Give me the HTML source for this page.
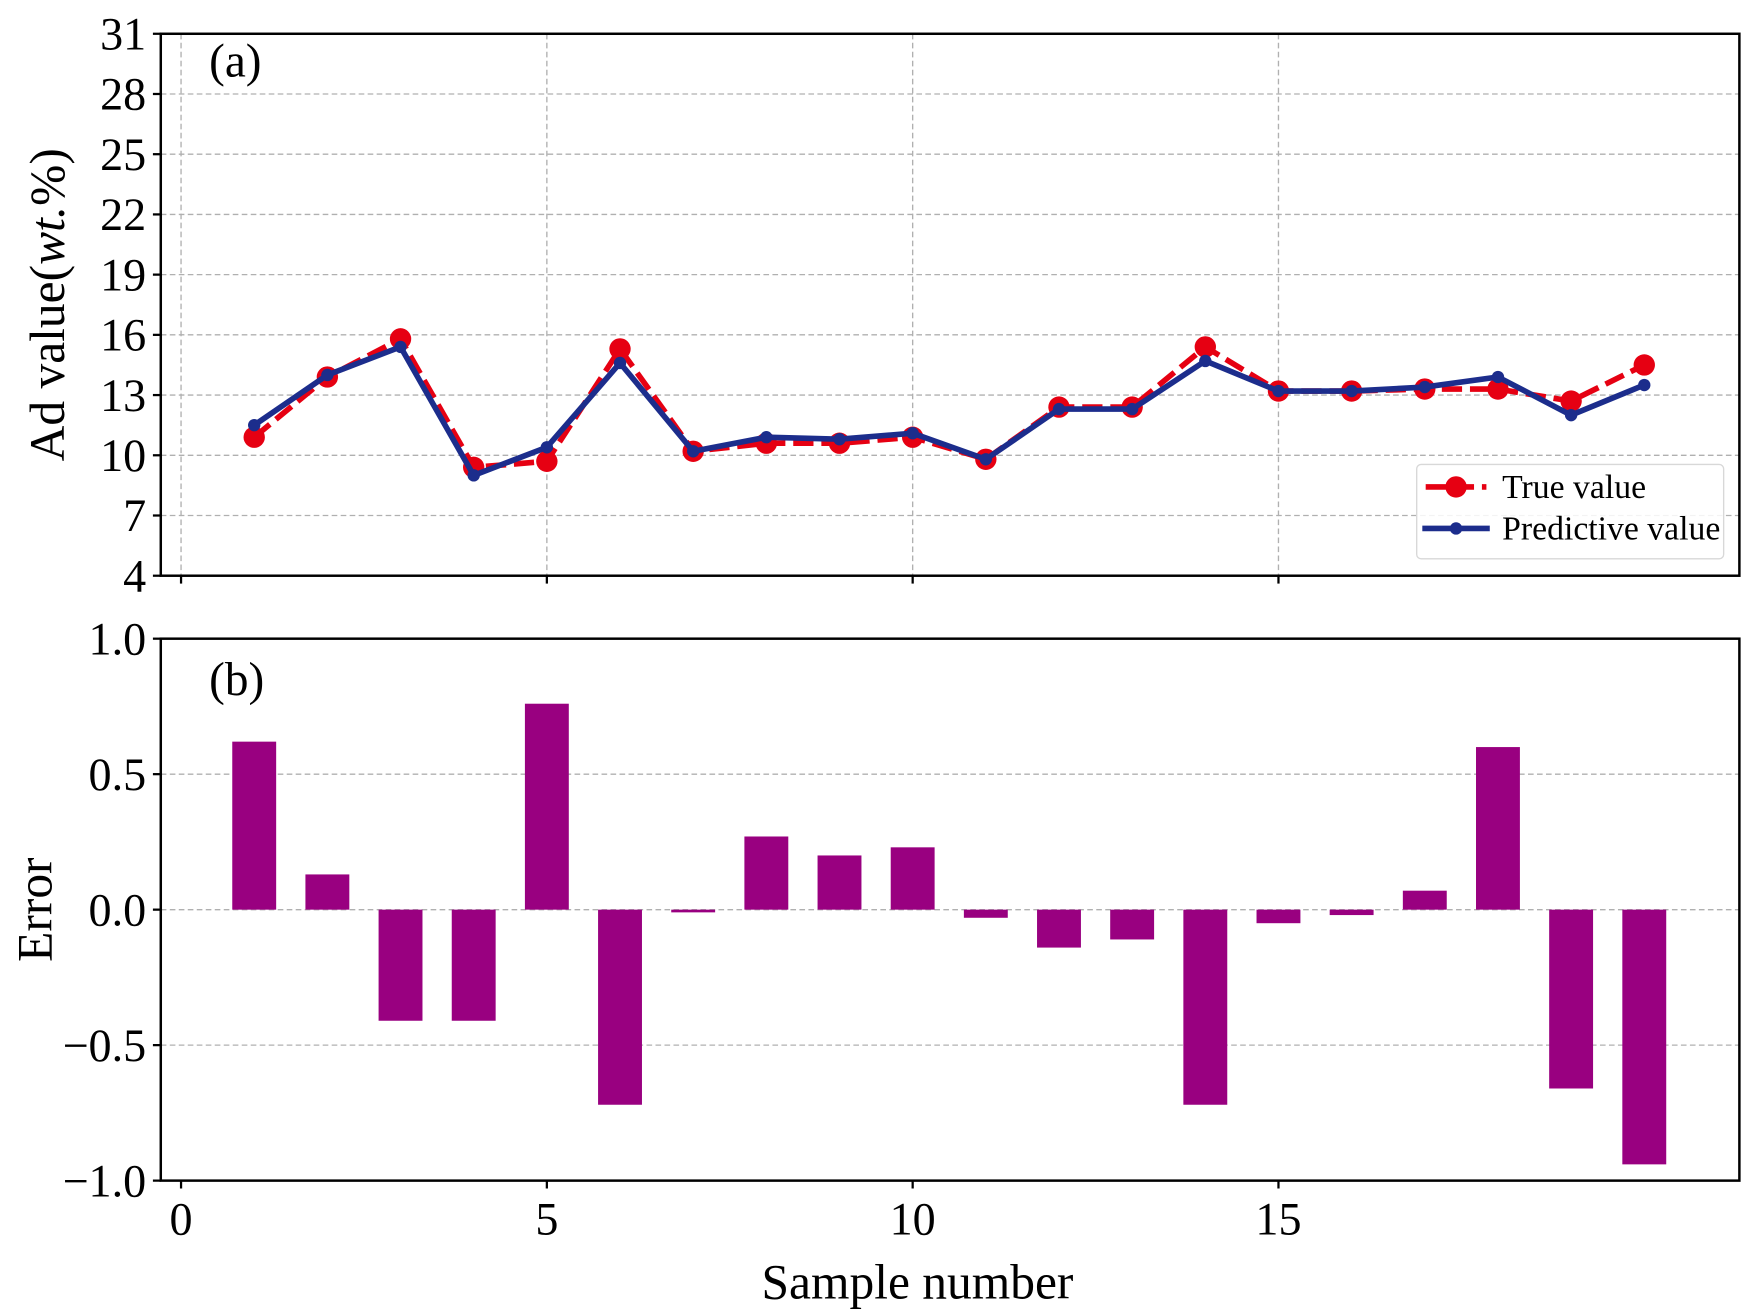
<!DOCTYPE html>
<html><head><meta charset="utf-8">
<style>
html,body{margin:0;padding:0;background:#fff;}
svg{display:block;font-family:"Liberation Serif",serif;}
</style></head>
<body>
<svg id="fig" width="1763" height="1313" viewBox="0 0 1568 1167.7" xmlns="http://www.w3.org/2000/svg">
<g id="gtop"></g>
<g id="gbot"></g>
</svg>
<script>
const samples = [1,2,3,4,5,6,7,8,9,10,11,12,13,14,15,16,17,18,19,20];
const trueValues = [10.9,13.9,15.8,9.4,9.7,15.3,10.2,10.6,10.6,10.9,9.8,12.4,12.4,15.4,13.2,13.2,13.3,13.3,12.7,14.5];
const predValues = [11.5,14.0,15.4,9.0,10.4,14.6,10.2,10.9,10.8,11.1,9.8,12.3,12.3,14.7,13.2,13.2,13.4,13.9,12.0,13.5];
const errors = [0.62,0.13,-0.41,-0.41,0.76,-0.72,-0.01,0.27,0.20,0.23,-0.03,-0.14,-0.11,-0.72,-0.05,-0.02,0.07,0.60,-0.66,-0.94];
const xTicks = [0,5,10,15];
const yTicksTop = [4,7,10,13,16,19,22,25,28,31];
const yTicksBot = [-1.0,-0.5,0.0,0.5,1.0];
const yTicksBotLabels = ["\u22121.0","\u22120.5","0.0","0.5","1.0"];

const NS="http://www.w3.org/2000/svg";
const L=143,R=1547;
const xmin=-0.277,xmax=21.3;
const X=v=>L+(v-xmin)/(xmax-xmin)*(R-L);
const T1=30,B1=512,T2=568,B2=1050;
const Y1=v=>B1-(v-4)/(31-4)*(B1-T1);
const Y2=v=>B2-(v+1)/2*(B2-T2);
const TF=41;
function mk(parent,tag,attrs,text){const e=document.createElementNS(NS,tag);for(const k in attrs)e.setAttribute(k,attrs[k]);if(text!==undefined)e.textContent=text;parent.appendChild(e);return e;}
const gTop=document.getElementById('gtop'),gBot=document.getElementById('gbot');
const grid={stroke:'#b0b0b0','stroke-width':1.2,'stroke-dasharray':'5,3'};

for(const t of yTicksTop){
  let g=mk(gTop,'line',Object.assign({x1:L,x2:R,y1:Y1(t),y2:Y1(t)},grid));
  
  
  let tk=mk(gTop,'line',{x1:L-7,x2:L,y1:Y1(t),y2:Y1(t),stroke:'#000','stroke-width':2});
  
  
  let lb=mk(gTop,'text',{x:L-13,y:Y1(t)+14,'text-anchor':'end','font-size':TF},String(t));
  
  
}
for(const t of xTicks){
  let g=mk(gTop,'line',Object.assign({x1:X(t),x2:X(t),y1:T1,y2:B1},grid));
  
  
  let tk=mk(gTop,'line',{x1:X(t),x2:X(t),y1:B1,y2:B1+7,stroke:'#000','stroke-width':2});
  
  
}
const ptsT=samples.map((s,i)=>X(s)+','+Y1(trueValues[i])).join(' ');
let tl=mk(gTop,'polyline',{points:ptsT,fill:'none',stroke:'#e60012','stroke-width':5,'stroke-dasharray':'18,7'});


samples.forEach((s,i)=>{let c=mk(gTop,'circle',{cx:X(s),cy:Y1(trueValues[i]),r:9.5,fill:'#e60012'});
  
  });
const ptsP=samples.map((s,i)=>X(s)+','+Y1(predValues[i])).join(' ');
let pl=mk(gTop,'polyline',{points:ptsP,fill:'none',stroke:'#1c2d8c','stroke-width':5});


samples.forEach((s,i)=>{let c=mk(gTop,'circle',{cx:X(s),cy:Y1(predValues[i]),r:5.5,fill:'#1c2d8c'});
  
  });
let fa=mk(gTop,'rect',{x:L,y:T1,width:R-L,height:B1-T1,fill:'none',stroke:'#000','stroke-width':2.2});


let la=mk(gTop,'text',{x:186,y:68,'font-size':42},'(a)');


let yl=mk(gTop,'text',{transform:'translate(57,271) rotate(-90)','text-anchor':'middle','font-size':44});


yl.innerHTML='Ad value(<tspan font-style="italic">wt.</tspan>%)';
const lg=mk(gTop,'g',{});


mk(lg,'rect',{x:1260,y:413,width:273,height:84,rx:4,fill:'#fff','fill-opacity':0.85,stroke:'#d8d8d8','stroke-width':1.2});
let e1=mk(lg,'g',{});


mk(e1,'line',{x1:1268,x2:1322,y1:433,y2:433,stroke:'#e60012','stroke-width':5,'stroke-dasharray':'18,7'});
mk(e1,'circle',{cx:1295,cy:433,r:9.5,fill:'#e60012'});
mk(e1,'text',{x:1336,y:443,'font-size':30},'True value');
let e2=mk(lg,'g',{});


mk(e2,'line',{x1:1265,x2:1325,y1:470,y2:470,stroke:'#1c2d8c','stroke-width':5});
mk(e2,'circle',{cx:1295,cy:470,r:5.5,fill:'#1c2d8c'});
mk(e2,'text',{x:1336,y:480,'font-size':30},'Predictive value');

yTicksBot.forEach((t,i)=>{
  if(t>-1&&t<1){let g=mk(gBot,'line',Object.assign({x1:L,x2:R,y1:Y2(t),y2:Y2(t)},grid));
  
  }
  let tk=mk(gBot,'line',{x1:L-7,x2:L,y1:Y2(t),y2:Y2(t),stroke:'#000','stroke-width':2});
  
  
  let lb=mk(gBot,'text',{x:L-13,y:Y2(t)+14,'text-anchor':'end','font-size':TF},yTicksBotLabels[i]);
  
  
});
const bw=0.6;
samples.forEach((s,i)=>{const v=errors[i];const y0=Y2(0),y1=Y2(v);
  let b=mk(gBot,'rect',{x:X(s-bw/2),y:Math.min(y0,y1),width:X(s+bw/2)-X(s-bw/2),height:Math.abs(y1-y0),fill:'#990080'});
  
  });
xTicks.forEach(t=>{
  let tk=mk(gBot,'line',{x1:X(t),x2:X(t),y1:B2,y2:B2+7,stroke:'#000','stroke-width':2});
  
  
  let lb=mk(gBot,'text',{x:X(t),y:B2+48,'text-anchor':'middle','font-size':TF},String(t));
  
  
});
let fb=mk(gBot,'rect',{x:L,y:T2,width:R-L,height:B2-T2,fill:'none',stroke:'#000','stroke-width':2.2});


let lbb=mk(gBot,'text',{x:186,y:618,'font-size':42},'(b)');


let yl2=mk(gBot,'text',{transform:'translate(46,809) rotate(-90)','text-anchor':'middle','font-size':44},'Error');


let xl=mk(gBot,'text',{x:816,y:1155,'text-anchor':'middle','font-size':44},'Sample number');


</script>
</body></html>
